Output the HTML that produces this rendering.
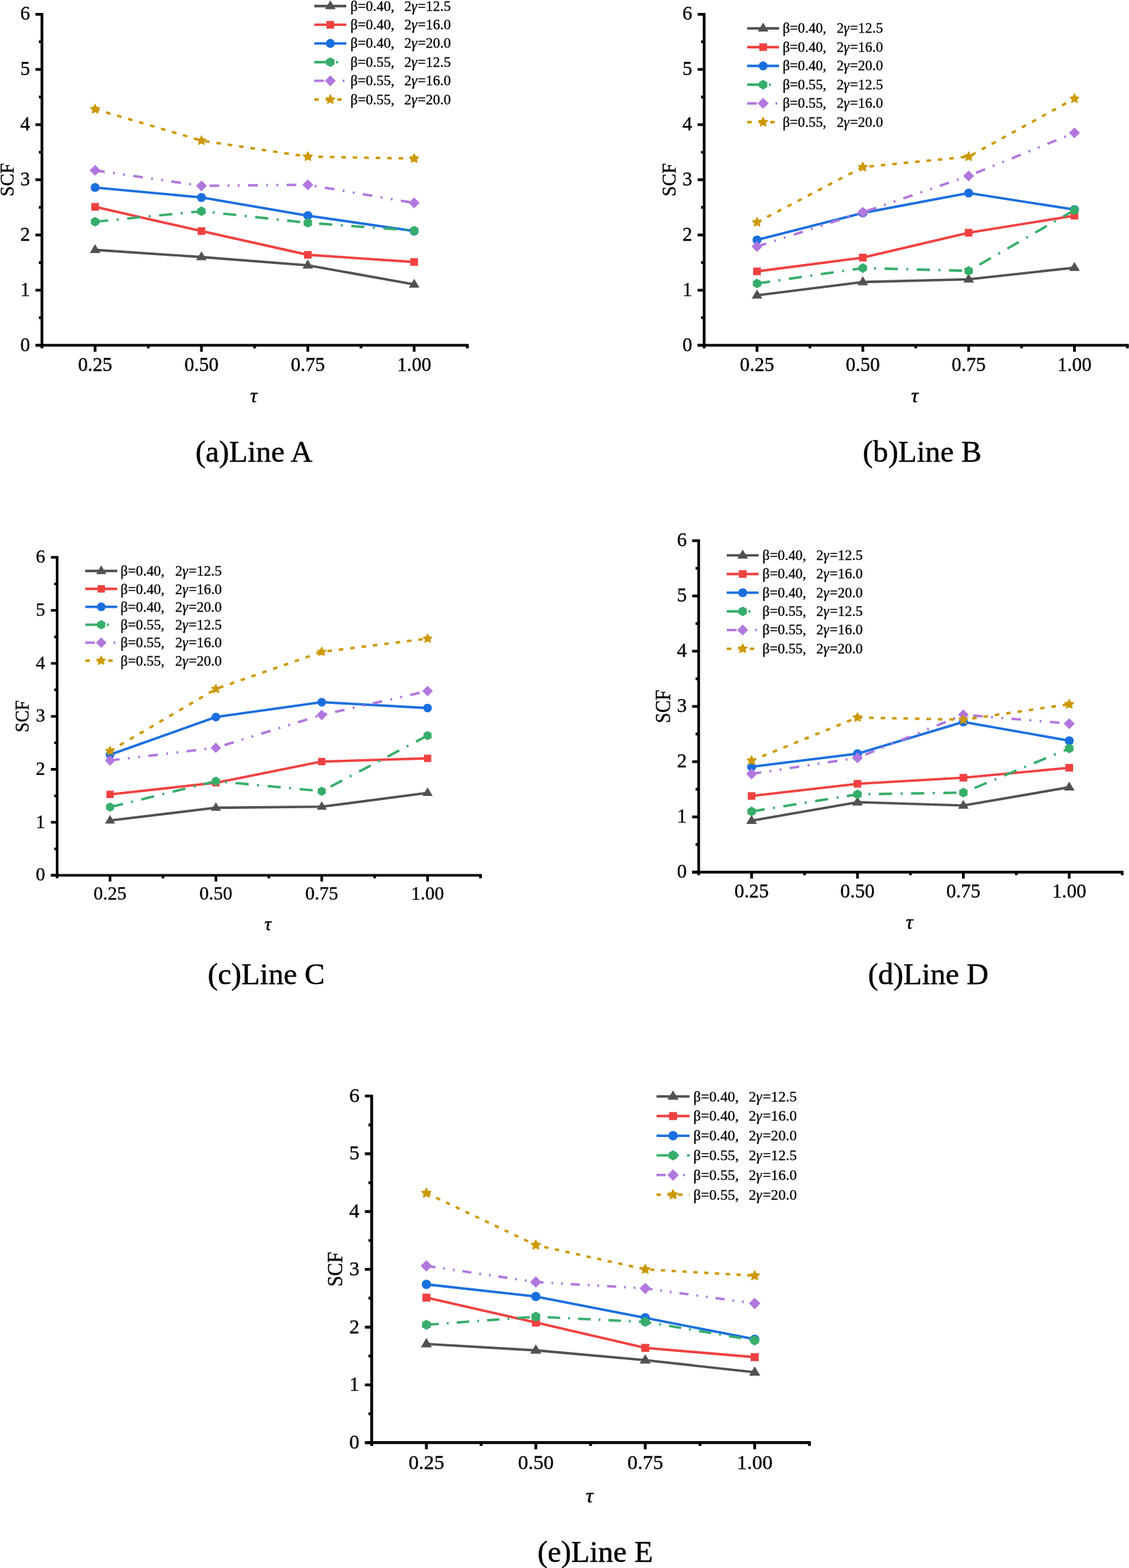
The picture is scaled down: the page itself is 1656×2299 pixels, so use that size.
<!DOCTYPE html><html><head><meta charset="utf-8"><title>SCF vs tau</title><style>html,body{margin:0;padding:0;background:#fff;}svg{display:block;}text{font-family:"Liberation Serif","Noto Serif CJK SC",serif;fill:#000;stroke:#000;stroke-width:0.35px;}text.cap{stroke-width:0.5px;}</style></head><body>
<svg width="1656" height="2299" viewBox="0 0 1656 2299">
<rect width="1656" height="2299" fill="#fff"/>
<g>
<path d="M52 506.3H687.5" stroke="#000" stroke-width="4" fill="none"/>
<path d="M61.5 18.9V510.8" stroke="#000" stroke-width="4" fill="none"/>
<path d="M52 506.3H61.5M52 425.4H61.5M52 344.5H61.5M52 263.6H61.5M52 182.7H61.5M52 101.8H61.5M52 20.9H61.5M57 465.85H61.5M57 384.95H61.5M57 304.05H61.5M57 223.15H61.5M57 142.25H61.5M57 61.35H61.5M139.5 506.3V515.7M295.5 506.3V515.7M451.5 506.3V515.7M607.5 506.3V515.7M217.5 506.3V510.8M373.5 506.3V510.8M529.5 506.3V510.8M685.5 506.3V510.8" stroke="#000" stroke-width="4" fill="none"/>
<text x="44" y="514.61" font-size="28.7" text-anchor="end">0</text>
<text x="44" y="433.71" font-size="28.7" text-anchor="end">1</text>
<text x="44" y="352.81" font-size="28.7" text-anchor="end">2</text>
<text x="44" y="271.91" font-size="28.7" text-anchor="end">3</text>
<text x="44" y="191.01" font-size="28.7" text-anchor="end">4</text>
<text x="44" y="110.11" font-size="28.7" text-anchor="end">5</text>
<text x="44" y="29.21" font-size="28.7" text-anchor="end">6</text>
<text x="139.5" y="543.8" font-size="28.7" text-anchor="middle">0.25</text>
<text x="295.5" y="543.8" font-size="28.7" text-anchor="middle">0.50</text>
<text x="451.5" y="543.8" font-size="28.7" text-anchor="middle">0.75</text>
<text x="607.5" y="543.8" font-size="28.7" text-anchor="middle">1.00</text>
<text x="372.1" y="589.8" font-size="29" text-anchor="middle" font-style="italic" style="stroke-width:0.55px">τ</text>
<text transform="translate(19.6 263.6) rotate(-90) scale(0.96 1.07)" font-size="28.5" text-anchor="middle">SCF</text>
<polyline points="139.5,366.34 295.5,376.86 451.5,389 607.5,417.07" fill="none" stroke="#515151" stroke-width="3.6" stroke-linejoin="round"/>
<polyline points="139.5,303.24 295.5,338.84 451.5,373.62 607.5,384.14" fill="none" stroke="#F14040" stroke-width="3.6" stroke-linejoin="round"/>
<polyline points="139.5,274.93 295.5,289.49 451.5,316.19 607.5,338.84" fill="none" stroke="#1A6FDF" stroke-width="3.6" stroke-linejoin="round"/>
<polyline points="139.5,325.08 295.5,309.71 451.5,326.7 607.5,338.03" fill="none" stroke="#37AD6B" stroke-width="3.6" stroke-linejoin="round" stroke-dasharray="19.3,12.5,2.8,12.6"/>
<polyline points="139.5,249.85 295.5,272.5 451.5,270.88 607.5,297.58" fill="none" stroke="#B177DE" stroke-width="3.6" stroke-linejoin="round" stroke-dasharray="14.2,12.3,2.7,12.3,2.7,12.3"/>
<polyline points="139.5,160.05 295.5,206.16 451.5,229.62 607.5,232.45" fill="none" stroke="#CC9900" stroke-width="3.6" stroke-linejoin="round" stroke-dasharray="6.7,10.1"/>
<polygon points="139.5,357.96 131.7,371.06 147.3,371.06" fill="#515151"/>
<polygon points="295.5,368.48 287.7,381.58 303.3,381.58" fill="#515151"/>
<polygon points="451.5,380.61 443.7,393.71 459.3,393.71" fill="#515151"/>
<polygon points="607.5,408.68 599.7,421.78 615.3,421.78" fill="#515151"/>
<rect x="133.9" y="297.64" width="11.2" height="11.2" fill="#F14040"/>
<rect x="289.9" y="333.24" width="11.2" height="11.2" fill="#F14040"/>
<rect x="445.9" y="368.02" width="11.2" height="11.2" fill="#F14040"/>
<rect x="601.9" y="378.54" width="11.2" height="11.2" fill="#F14040"/>
<circle cx="139.5" cy="274.93" r="6.6" fill="#1A6FDF"/>
<circle cx="295.5" cy="289.49" r="6.6" fill="#1A6FDF"/>
<circle cx="451.5" cy="316.19" r="6.6" fill="#1A6FDF"/>
<circle cx="607.5" cy="338.84" r="6.6" fill="#1A6FDF"/>
<polygon points="139.5,317.98 133.35,321.53 133.35,328.63 139.5,332.18 145.65,328.63 145.65,321.53" fill="#37AD6B"/>
<polygon points="295.5,302.61 289.35,306.16 289.35,313.26 295.5,316.81 301.65,313.26 301.65,306.16" fill="#37AD6B"/>
<polygon points="451.5,319.6 445.35,323.15 445.35,330.25 451.5,333.8 457.65,330.25 457.65,323.15" fill="#37AD6B"/>
<polygon points="607.5,330.93 601.35,334.48 601.35,341.58 607.5,345.13 613.65,341.58 613.65,334.48" fill="#37AD6B"/>
<polygon points="139.5,241.85 147.5,249.85 139.5,257.85 131.5,249.85" fill="#B177DE"/>
<polygon points="295.5,264.5 303.5,272.5 295.5,280.5 287.5,272.5" fill="#B177DE"/>
<polygon points="451.5,262.88 459.5,270.88 451.5,278.88 443.5,270.88" fill="#B177DE"/>
<polygon points="607.5,289.58 615.5,297.58 607.5,305.58 599.5,297.58" fill="#B177DE"/>
<polygon points="139.5,152.8 137.37,157.12 132.6,157.81 136.05,161.17 135.24,165.91 139.5,163.67 143.76,165.91 142.95,161.17 146.4,157.81 141.63,157.12" fill="#CC9900" stroke="#CC9900" stroke-width="1.1" stroke-linejoin="round"/>
<polygon points="295.5,198.91 293.37,203.23 288.6,203.92 292.05,207.28 291.24,212.03 295.5,209.79 299.76,212.03 298.95,207.28 302.4,203.92 297.63,203.23" fill="#CC9900" stroke="#CC9900" stroke-width="1.1" stroke-linejoin="round"/>
<polygon points="451.5,222.37 449.37,226.69 444.6,227.38 448.05,230.74 447.24,235.49 451.5,233.25 455.76,235.49 454.95,230.74 458.4,227.38 453.63,226.69" fill="#CC9900" stroke="#CC9900" stroke-width="1.1" stroke-linejoin="round"/>
<polygon points="607.5,225.2 605.37,229.52 600.6,230.21 604.05,233.57 603.24,238.32 607.5,236.08 611.76,238.32 610.95,233.57 614.4,230.21 609.63,229.52" fill="#CC9900" stroke="#CC9900" stroke-width="1.1" stroke-linejoin="round"/>
<path d="M461 8.9H508" stroke="#515151" stroke-width="3.6" fill="none"/>
<polygon points="484.5,0.52 476.7,13.62 492.3,13.62" fill="#515151"/>
<text y="15.5" font-size="21"><tspan x="514">β=0.40,</tspan><tspan x="593">2<tspan font-style="italic">γ</tspan><tspan dx="1.01">=12.5</tspan></tspan></text>
<path d="M461 36.3H508" stroke="#F14040" stroke-width="3.6" fill="none"/>
<rect x="478.9" y="30.7" width="11.2" height="11.2" fill="#F14040"/>
<text y="42.9" font-size="21"><tspan x="514">β=0.40,</tspan><tspan x="593">2<tspan font-style="italic">γ</tspan><tspan dx="1.01">=16.0</tspan></tspan></text>
<path d="M461 63.7H508" stroke="#1A6FDF" stroke-width="3.6" fill="none"/>
<circle cx="484.5" cy="63.7" r="6.6" fill="#1A6FDF"/>
<text y="70.3" font-size="21"><tspan x="514">β=0.40,</tspan><tspan x="593">2<tspan font-style="italic">γ</tspan><tspan dx="1.01">=20.0</tspan></tspan></text>
<path d="M461 91.1H508" stroke="#37AD6B" stroke-width="3.6" fill="none" stroke-dasharray="19.3,12.5,2.8,12.6"/>
<polygon points="484.5,84 478.35,87.55 478.35,94.65 484.5,98.2 490.65,94.65 490.65,87.55" fill="#37AD6B"/>
<text y="97.7" font-size="21"><tspan x="514">β=0.55,</tspan><tspan x="593">2<tspan font-style="italic">γ</tspan><tspan dx="1.01">=12.5</tspan></tspan></text>
<path d="M461 118.5H508" stroke="#B177DE" stroke-width="3.6" fill="none" stroke-dasharray="14.2,12.3,2.7,12.3,2.7,12.3"/>
<polygon points="484.5,110.5 492.5,118.5 484.5,126.5 476.5,118.5" fill="#B177DE"/>
<text y="125.1" font-size="21"><tspan x="514">β=0.55,</tspan><tspan x="593">2<tspan font-style="italic">γ</tspan><tspan dx="1.01">=16.0</tspan></tspan></text>
<path d="M461 145.9H508" stroke="#CC9900" stroke-width="3.6" fill="none" stroke-dasharray="6.7,10.1"/>
<polygon points="484.5,138.65 482.37,142.97 477.6,143.66 481.05,147.02 480.24,151.77 484.5,149.53 488.76,151.77 487.95,147.02 491.4,143.66 486.63,142.97" fill="#CC9900" stroke="#CC9900" stroke-width="1.1" stroke-linejoin="round"/>
<text y="152.5" font-size="21"><tspan x="514">β=0.55,</tspan><tspan x="593">2<tspan font-style="italic">γ</tspan><tspan dx="1.01">=20.0</tspan></tspan></text>
<text class="cap" x="372.5" y="676.5" font-size="44.5" text-anchor="middle">(a)Line A</text>
</g>
<g>
<path d="M1023.3 506.3H1655.6" stroke="#000" stroke-width="4" fill="none"/>
<path d="M1032.8 18.9V510.8" stroke="#000" stroke-width="4" fill="none"/>
<path d="M1023.3 506.3H1032.8M1023.3 425.4H1032.8M1023.3 344.5H1032.8M1023.3 263.6H1032.8M1023.3 182.7H1032.8M1023.3 101.8H1032.8M1023.3 20.9H1032.8M1028.3 465.85H1032.8M1028.3 384.95H1032.8M1028.3 304.05H1032.8M1028.3 223.15H1032.8M1028.3 142.25H1032.8M1028.3 61.35H1032.8M1110.4 506.3V515.7M1265.6 506.3V515.7M1420.8 506.3V515.7M1576 506.3V515.7M1188 506.3V510.8M1343.2 506.3V510.8M1498.4 506.3V510.8M1653.6 506.3V510.8" stroke="#000" stroke-width="4" fill="none"/>
<text x="1015.39" y="514.61" font-size="28.7" text-anchor="end">0</text>
<text x="1015.39" y="433.71" font-size="28.7" text-anchor="end">1</text>
<text x="1015.39" y="352.81" font-size="28.7" text-anchor="end">2</text>
<text x="1015.39" y="271.91" font-size="28.7" text-anchor="end">3</text>
<text x="1015.39" y="191.01" font-size="28.7" text-anchor="end">4</text>
<text x="1015.39" y="110.11" font-size="28.7" text-anchor="end">5</text>
<text x="1015.39" y="29.21" font-size="28.7" text-anchor="end">6</text>
<text x="1110.4" y="543.8" font-size="28.7" text-anchor="middle">0.25</text>
<text x="1265.6" y="543.8" font-size="28.7" text-anchor="middle">0.50</text>
<text x="1420.8" y="543.8" font-size="28.7" text-anchor="middle">0.75</text>
<text x="1576" y="543.8" font-size="28.7" text-anchor="middle">1.00</text>
<text x="1341.81" y="589.8" font-size="29" text-anchor="middle" font-style="italic" style="stroke-width:0.55px">τ</text>
<text transform="translate(991.11 263.6) rotate(-90) scale(0.96 1.07)" font-size="28.5" text-anchor="middle">SCF</text>
<polyline points="1110.4,432.92 1265.6,413.51 1420.8,409.46 1576,392.47" fill="none" stroke="#515151" stroke-width="3.6" stroke-linejoin="round"/>
<polyline points="1110.4,397.89 1265.6,377.67 1420.8,341.26 1576,316.19" fill="none" stroke="#F14040" stroke-width="3.6" stroke-linejoin="round"/>
<polyline points="1110.4,351.78 1265.6,312.14 1420.8,283.02 1576,307.29" fill="none" stroke="#1A6FDF" stroke-width="3.6" stroke-linejoin="round"/>
<polyline points="1110.4,415.69 1265.6,393.04 1420.8,397.08 1576,308.09" fill="none" stroke="#37AD6B" stroke-width="3.6" stroke-linejoin="round" stroke-dasharray="19.3,12.5,2.8,12.6"/>
<polyline points="1110.4,361.49 1265.6,311.33 1420.8,257.94 1576,194.83" fill="none" stroke="#B177DE" stroke-width="3.6" stroke-linejoin="round" stroke-dasharray="14.2,12.3,2.7,12.3,2.7,12.3"/>
<polyline points="1110.4,325.89 1265.6,244.99 1420.8,229.62 1576,144.68" fill="none" stroke="#CC9900" stroke-width="3.6" stroke-linejoin="round" stroke-dasharray="6.7,10.1"/>
<polygon points="1110.4,424.54 1102.6,437.64 1118.2,437.64" fill="#515151"/>
<polygon points="1265.6,405.12 1257.8,418.22 1273.4,418.22" fill="#515151"/>
<polygon points="1420.8,401.08 1413,414.18 1428.6,414.18" fill="#515151"/>
<polygon points="1576,384.09 1568.2,397.19 1583.8,397.19" fill="#515151"/>
<rect x="1104.8" y="392.29" width="11.2" height="11.2" fill="#F14040"/>
<rect x="1260" y="372.07" width="11.2" height="11.2" fill="#F14040"/>
<rect x="1415.2" y="335.66" width="11.2" height="11.2" fill="#F14040"/>
<rect x="1570.4" y="310.58" width="11.2" height="11.2" fill="#F14040"/>
<circle cx="1110.4" cy="351.78" r="6.6" fill="#1A6FDF"/>
<circle cx="1265.6" cy="312.14" r="6.6" fill="#1A6FDF"/>
<circle cx="1420.8" cy="283.02" r="6.6" fill="#1A6FDF"/>
<circle cx="1576" cy="307.29" r="6.6" fill="#1A6FDF"/>
<polygon points="1110.4,408.59 1104.25,412.14 1104.25,419.24 1110.4,422.79 1116.55,419.24 1116.55,412.14" fill="#37AD6B"/>
<polygon points="1265.6,385.94 1259.45,389.49 1259.45,396.59 1265.6,400.14 1271.75,396.59 1271.75,389.49" fill="#37AD6B"/>
<polygon points="1420.8,389.98 1414.65,393.53 1414.65,400.63 1420.8,404.19 1426.95,400.63 1426.95,393.53" fill="#37AD6B"/>
<polygon points="1576,300.99 1569.85,304.54 1569.85,311.64 1576,315.19 1582.15,311.64 1582.15,304.54" fill="#37AD6B"/>
<polygon points="1110.4,353.49 1118.4,361.49 1110.4,369.49 1102.4,361.49" fill="#B177DE"/>
<polygon points="1265.6,303.33 1273.6,311.33 1265.6,319.33 1257.6,311.33" fill="#B177DE"/>
<polygon points="1420.8,249.94 1428.8,257.94 1420.8,265.94 1412.8,257.94" fill="#B177DE"/>
<polygon points="1576,186.83 1584,194.83 1576,202.83 1568,194.83" fill="#B177DE"/>
<polygon points="1110.4,318.64 1108.27,322.96 1103.5,323.65 1106.95,327.01 1106.14,331.76 1110.4,329.52 1114.66,331.76 1113.85,327.01 1117.3,323.65 1112.53,322.96" fill="#CC9900" stroke="#CC9900" stroke-width="1.1" stroke-linejoin="round"/>
<polygon points="1265.6,237.74 1263.47,242.06 1258.7,242.75 1262.15,246.11 1261.34,250.86 1265.6,248.62 1269.86,250.86 1269.05,246.11 1272.5,242.75 1267.73,242.06" fill="#CC9900" stroke="#CC9900" stroke-width="1.1" stroke-linejoin="round"/>
<polygon points="1420.8,222.37 1418.67,226.69 1413.9,227.38 1417.35,230.74 1416.54,235.49 1420.8,233.25 1425.06,235.49 1424.25,230.74 1427.7,227.38 1422.93,226.69" fill="#CC9900" stroke="#CC9900" stroke-width="1.1" stroke-linejoin="round"/>
<polygon points="1576,137.43 1573.87,141.74 1569.1,142.44 1572.55,145.8 1571.74,150.54 1576,148.3 1580.26,150.54 1579.45,145.8 1582.9,142.44 1578.13,141.74" fill="#CC9900" stroke="#CC9900" stroke-width="1.1" stroke-linejoin="round"/>
<path d="M1096 41.6H1142.7" stroke="#515151" stroke-width="3.6" fill="none"/>
<polygon points="1119.35,33.22 1111.55,46.32 1127.15,46.32" fill="#515151"/>
<text y="48.2" font-size="20.85"><tspan x="1148">β=0.40,</tspan><tspan x="1227.2">2<tspan font-style="italic">γ</tspan><tspan dx="1">=12.5</tspan></tspan></text>
<path d="M1096 69.1H1142.7" stroke="#F14040" stroke-width="3.6" fill="none"/>
<rect x="1113.75" y="63.5" width="11.2" height="11.2" fill="#F14040"/>
<text y="75.7" font-size="20.85"><tspan x="1148">β=0.40,</tspan><tspan x="1227.2">2<tspan font-style="italic">γ</tspan><tspan dx="1">=16.0</tspan></tspan></text>
<path d="M1096 96.6H1142.7" stroke="#1A6FDF" stroke-width="3.6" fill="none"/>
<circle cx="1119.35" cy="96.6" r="6.6" fill="#1A6FDF"/>
<text y="103.2" font-size="20.85"><tspan x="1148">β=0.40,</tspan><tspan x="1227.2">2<tspan font-style="italic">γ</tspan><tspan dx="1">=20.0</tspan></tspan></text>
<path d="M1096 124.1H1142.7" stroke="#37AD6B" stroke-width="3.6" fill="none" stroke-dasharray="19.3,12.5,2.8,12.6"/>
<polygon points="1119.35,117 1113.2,120.55 1113.2,127.65 1119.35,131.2 1125.5,127.65 1125.5,120.55" fill="#37AD6B"/>
<text y="130.7" font-size="20.85"><tspan x="1148">β=0.55,</tspan><tspan x="1227.2">2<tspan font-style="italic">γ</tspan><tspan dx="1">=12.5</tspan></tspan></text>
<path d="M1096 151.6H1142.7" stroke="#B177DE" stroke-width="3.6" fill="none" stroke-dasharray="14.2,12.3,2.7,12.3,2.7,12.3"/>
<polygon points="1119.35,143.6 1127.35,151.6 1119.35,159.6 1111.35,151.6" fill="#B177DE"/>
<text y="158.2" font-size="20.85"><tspan x="1148">β=0.55,</tspan><tspan x="1227.2">2<tspan font-style="italic">γ</tspan><tspan dx="1">=16.0</tspan></tspan></text>
<path d="M1096 179.1H1142.7" stroke="#CC9900" stroke-width="3.6" fill="none" stroke-dasharray="6.7,10.1"/>
<polygon points="1119.35,171.85 1117.22,176.17 1112.45,176.86 1115.9,180.22 1115.09,184.97 1119.35,182.72 1123.61,184.97 1122.8,180.22 1126.25,176.86 1121.48,176.17" fill="#CC9900" stroke="#CC9900" stroke-width="1.1" stroke-linejoin="round"/>
<text y="185.7" font-size="20.85"><tspan x="1148">β=0.55,</tspan><tspan x="1227.2">2<tspan font-style="italic">γ</tspan><tspan dx="1">=20.0</tspan></tspan></text>
<text class="cap" x="1352.7" y="676.6" font-size="44.5" text-anchor="middle">(b)Line B</text>
</g>
<g>
<path d="M74.68 1283.4H706.72" stroke="#000" stroke-width="3.84" fill="none"/>
<path d="M83.8 815.28V1287.72" stroke="#000" stroke-width="3.84" fill="none"/>
<path d="M74.68 1283.4H83.8M74.68 1205.7H83.8M74.68 1128H83.8M74.68 1050.3H83.8M74.68 972.6H83.8M74.68 894.9H83.8M74.68 817.2H83.8M79.48 1244.55H83.8M79.48 1166.85H83.8M79.48 1089.15H83.8M79.48 1011.45H83.8M79.48 933.75H83.8M79.48 856.05H83.8M161.43 1283.4V1292.43M316.68 1283.4V1292.43M471.93 1283.4V1292.43M627.17 1283.4V1292.43M239.05 1283.4V1287.72M394.3 1283.4V1287.72M549.55 1283.4V1287.72M704.8 1283.4V1287.72" stroke="#000" stroke-width="3.84" fill="none"/>
<text x="66.38" y="1291.39" font-size="27.56" text-anchor="end">0</text>
<text x="66.38" y="1213.69" font-size="27.56" text-anchor="end">1</text>
<text x="66.38" y="1135.99" font-size="27.56" text-anchor="end">2</text>
<text x="66.38" y="1058.29" font-size="27.56" text-anchor="end">3</text>
<text x="66.38" y="980.59" font-size="27.56" text-anchor="end">4</text>
<text x="66.38" y="902.89" font-size="27.56" text-anchor="end">5</text>
<text x="66.38" y="825.19" font-size="27.56" text-anchor="end">6</text>
<text x="161.43" y="1319.42" font-size="27.56" text-anchor="middle">0.25</text>
<text x="316.68" y="1319.42" font-size="27.56" text-anchor="middle">0.50</text>
<text x="471.93" y="1319.42" font-size="27.56" text-anchor="middle">0.75</text>
<text x="627.17" y="1319.42" font-size="27.56" text-anchor="middle">1.00</text>
<text x="392.91" y="1363.6" font-size="27.85" text-anchor="middle" font-style="italic" style="stroke-width:0.55px">τ</text>
<text transform="translate(42.1 1050.3) rotate(-90) scale(0.96 1.07)" font-size="27.37" text-anchor="middle">SCF</text>
<polyline points="161.43,1202.98 316.68,1184.33 471.93,1182.78 627.17,1162.58" fill="none" stroke="#515151" stroke-width="3.6" stroke-linejoin="round"/>
<polyline points="161.43,1164.75 316.68,1147.66 471.93,1116.58 627.17,1111.92" fill="none" stroke="#F14040" stroke-width="3.6" stroke-linejoin="round"/>
<polyline points="161.43,1106.48 316.68,1051.31 471.93,1029.55 627.17,1038.1" fill="none" stroke="#1A6FDF" stroke-width="3.6" stroke-linejoin="round"/>
<polyline points="161.43,1183.4 316.68,1145.33 471.93,1160.09 627.17,1078.51" fill="none" stroke="#37AD6B" stroke-width="3.6" stroke-linejoin="round" stroke-dasharray="19.3,12.5,2.8,12.6"/>
<polyline points="161.43,1115.02 316.68,1096.38 471.93,1048.2 627.17,1013.24" fill="none" stroke="#B177DE" stroke-width="3.6" stroke-linejoin="round" stroke-dasharray="14.2,12.3,2.7,12.3,2.7,12.3"/>
<polyline points="161.43,1101.04 316.68,1010.13 471.93,955.74 627.17,936.31" fill="none" stroke="#CC9900" stroke-width="3.6" stroke-linejoin="round" stroke-dasharray="6.7,10.1"/>
<polygon points="161.43,1194.93 153.93,1207.51 168.92,1207.51" fill="#515151"/>
<polygon points="316.68,1176.28 309.18,1188.86 324.17,1188.86" fill="#515151"/>
<polygon points="471.93,1174.73 464.43,1187.31 479.42,1187.31" fill="#515151"/>
<polygon points="627.17,1154.52 619.68,1167.11 634.67,1167.11" fill="#515151"/>
<rect x="156.05" y="1159.37" width="10.76" height="10.76" fill="#F14040"/>
<rect x="311.3" y="1142.28" width="10.76" height="10.76" fill="#F14040"/>
<rect x="466.55" y="1111.2" width="10.76" height="10.76" fill="#F14040"/>
<rect x="621.8" y="1106.54" width="10.76" height="10.76" fill="#F14040"/>
<circle cx="161.43" cy="1106.48" r="6.34" fill="#1A6FDF"/>
<circle cx="316.68" cy="1051.31" r="6.34" fill="#1A6FDF"/>
<circle cx="471.93" cy="1029.55" r="6.34" fill="#1A6FDF"/>
<circle cx="627.17" cy="1038.1" r="6.34" fill="#1A6FDF"/>
<polygon points="161.43,1176.58 155.52,1179.99 155.52,1186.81 161.43,1190.22 167.33,1186.81 167.33,1179.99" fill="#37AD6B"/>
<polygon points="316.68,1138.51 310.77,1141.92 310.77,1148.74 316.68,1152.15 322.58,1148.74 322.58,1141.92" fill="#37AD6B"/>
<polygon points="471.93,1153.27 466.02,1156.68 466.02,1163.5 471.93,1166.91 477.83,1163.5 477.83,1156.68" fill="#37AD6B"/>
<polygon points="627.17,1071.69 621.27,1075.1 621.27,1081.91 627.17,1085.32 633.08,1081.91 633.08,1075.1" fill="#37AD6B"/>
<polygon points="161.43,1107.34 169.11,1115.02 161.43,1122.71 153.74,1115.02" fill="#B177DE"/>
<polygon points="316.68,1088.69 324.36,1096.38 316.68,1104.06 308.99,1096.38" fill="#B177DE"/>
<polygon points="471.93,1040.52 479.61,1048.2 471.93,1055.89 464.24,1048.2" fill="#B177DE"/>
<polygon points="627.17,1005.55 634.86,1013.24 627.17,1020.92 619.49,1013.24" fill="#B177DE"/>
<polygon points="161.43,1094.07 159.38,1098.22 154.8,1098.89 158.11,1102.11 157.33,1106.67 161.43,1104.52 165.52,1106.67 164.74,1102.11 168.05,1098.89 163.47,1098.22" fill="#CC9900" stroke="#CC9900" stroke-width="1.06" stroke-linejoin="round"/>
<polygon points="316.68,1003.17 314.63,1007.31 310.05,1007.98 313.36,1011.2 312.58,1015.76 316.68,1013.61 320.77,1015.76 319.99,1011.2 323.3,1007.98 318.72,1007.31" fill="#CC9900" stroke="#CC9900" stroke-width="1.06" stroke-linejoin="round"/>
<polygon points="471.93,948.78 469.88,952.92 465.3,953.59 468.61,956.81 467.83,961.37 471.93,959.22 476.02,961.37 475.24,956.81 478.55,953.59 473.97,952.92" fill="#CC9900" stroke="#CC9900" stroke-width="1.06" stroke-linejoin="round"/>
<polygon points="627.17,929.35 625.13,933.5 620.55,934.16 623.86,937.39 623.08,941.95 627.17,939.8 631.27,941.95 630.49,937.39 633.8,934.16 629.22,933.5" fill="#CC9900" stroke="#CC9900" stroke-width="1.06" stroke-linejoin="round"/>
<path d="M125 837.1H172" stroke="#515151" stroke-width="3.6" fill="none"/>
<polygon points="148.5,829.05 141.01,841.63 155.99,841.63" fill="#515151"/>
<text y="844.24" font-size="21"><tspan x="176.8">β=0.40,</tspan><tspan x="257">2<tspan font-style="italic">γ</tspan><tspan dx="1.01">=12.5</tspan></tspan></text>
<path d="M125 863.4H172" stroke="#F14040" stroke-width="3.6" fill="none"/>
<rect x="143.12" y="858.02" width="10.76" height="10.76" fill="#F14040"/>
<text y="870.54" font-size="21"><tspan x="176.8">β=0.40,</tspan><tspan x="257">2<tspan font-style="italic">γ</tspan><tspan dx="1.01">=16.0</tspan></tspan></text>
<path d="M125 889.7H172" stroke="#1A6FDF" stroke-width="3.6" fill="none"/>
<circle cx="148.5" cy="889.7" r="6.34" fill="#1A6FDF"/>
<text y="896.84" font-size="21"><tspan x="176.8">β=0.40,</tspan><tspan x="257">2<tspan font-style="italic">γ</tspan><tspan dx="1.01">=20.0</tspan></tspan></text>
<path d="M125 916H172" stroke="#37AD6B" stroke-width="3.6" fill="none" stroke-dasharray="19.3,12.5,2.8,12.6"/>
<polygon points="148.5,909.18 142.59,912.59 142.59,919.41 148.5,922.82 154.41,919.41 154.41,912.59" fill="#37AD6B"/>
<text y="923.14" font-size="21"><tspan x="176.8">β=0.55,</tspan><tspan x="257">2<tspan font-style="italic">γ</tspan><tspan dx="1.01">=12.5</tspan></tspan></text>
<path d="M125 942.3H172" stroke="#B177DE" stroke-width="3.6" fill="none" stroke-dasharray="14.2,12.3,2.7,12.3,2.7,12.3"/>
<polygon points="148.5,934.62 156.18,942.3 148.5,949.98 140.82,942.3" fill="#B177DE"/>
<text y="949.44" font-size="21"><tspan x="176.8">β=0.55,</tspan><tspan x="257">2<tspan font-style="italic">γ</tspan><tspan dx="1.01">=16.0</tspan></tspan></text>
<path d="M125 968.6H172" stroke="#CC9900" stroke-width="3.6" fill="none" stroke-dasharray="6.7,10.1"/>
<polygon points="148.5,961.64 146.45,965.78 141.88,966.45 145.19,969.68 144.41,974.23 148.5,972.08 152.59,974.23 151.81,969.68 155.12,966.45 150.55,965.78" fill="#CC9900" stroke="#CC9900" stroke-width="1.06" stroke-linejoin="round"/>
<text y="975.74" font-size="21"><tspan x="176.8">β=0.55,</tspan><tspan x="257">2<tspan font-style="italic">γ</tspan><tspan dx="1.01">=20.0</tspan></tspan></text>
<text class="cap" x="390.6" y="1442.7" font-size="44.5" text-anchor="middle">(c)Line C</text>
</g>
<g>
<path d="M1015.29 1278.8H1648" stroke="#000" stroke-width="4" fill="none"/>
<path d="M1024.8 790.8V1283.31" stroke="#000" stroke-width="4" fill="none"/>
<path d="M1015.29 1278.8H1024.8M1015.29 1197.8H1024.8M1015.29 1116.8H1024.8M1015.29 1035.8H1024.8M1015.29 954.8H1024.8M1015.29 873.8H1024.8M1015.29 792.8H1024.8M1020.29 1238.3H1024.8M1020.29 1157.3H1024.8M1020.29 1076.3H1024.8M1020.29 995.3H1024.8M1020.29 914.3H1024.8M1020.29 833.3H1024.8M1102.45 1278.8V1288.21M1257.75 1278.8V1288.21M1413.05 1278.8V1288.21M1568.35 1278.8V1288.21M1180.1 1278.8V1283.31M1335.4 1278.8V1283.31M1490.7 1278.8V1283.31M1646 1278.8V1283.31" stroke="#000" stroke-width="4" fill="none"/>
<text x="1007.38" y="1287.12" font-size="28.74" text-anchor="end">0</text>
<text x="1007.38" y="1206.12" font-size="28.74" text-anchor="end">1</text>
<text x="1007.38" y="1125.12" font-size="28.74" text-anchor="end">2</text>
<text x="1007.38" y="1044.12" font-size="28.74" text-anchor="end">3</text>
<text x="1007.38" y="963.12" font-size="28.74" text-anchor="end">4</text>
<text x="1007.38" y="882.12" font-size="28.74" text-anchor="end">5</text>
<text x="1007.38" y="801.12" font-size="28.74" text-anchor="end">6</text>
<text x="1102.45" y="1316.35" font-size="28.74" text-anchor="middle">0.25</text>
<text x="1257.75" y="1316.35" font-size="28.74" text-anchor="middle">0.50</text>
<text x="1413.05" y="1316.35" font-size="28.74" text-anchor="middle">0.75</text>
<text x="1568.35" y="1316.35" font-size="28.74" text-anchor="middle">1.00</text>
<text x="1334.01" y="1362.4" font-size="29.04" text-anchor="middle" font-style="italic" style="stroke-width:0.55px">τ</text>
<text transform="translate(983.09 1035.8) rotate(-90) scale(0.96 1.07)" font-size="28.54" text-anchor="middle">SCF</text>
<polyline points="1102.45,1203.31 1257.75,1176.17 1413.05,1181.03 1568.35,1154.3" fill="none" stroke="#515151" stroke-width="3.6" stroke-linejoin="round"/>
<polyline points="1102.45,1167.02 1257.75,1149.2 1413.05,1140.29 1568.35,1125.71" fill="none" stroke="#F14040" stroke-width="3.6" stroke-linejoin="round"/>
<polyline points="1102.45,1124.33 1257.75,1105.05 1413.05,1058.48 1568.35,1086.02" fill="none" stroke="#1A6FDF" stroke-width="3.6" stroke-linejoin="round"/>
<polyline points="1102.45,1189.7 1257.75,1164.59 1413.05,1162.16 1568.35,1097.36" fill="none" stroke="#37AD6B" stroke-width="3.6" stroke-linejoin="round" stroke-dasharray="19.3,12.5,2.8,12.6"/>
<polyline points="1102.45,1134.62 1257.75,1111.13 1413.05,1047.95 1568.35,1060.91" fill="none" stroke="#B177DE" stroke-width="3.6" stroke-linejoin="round" stroke-dasharray="14.2,12.3,2.7,12.3,2.7,12.3"/>
<polyline points="1102.45,1115.18 1257.75,1052 1413.05,1055.24 1568.35,1032.56" fill="none" stroke="#CC9900" stroke-width="3.6" stroke-linejoin="round" stroke-dasharray="6.7,10.1"/>
<polygon points="1102.45,1194.91 1094.64,1208.03 1110.26,1208.03" fill="#515151"/>
<polygon points="1257.75,1167.78 1249.94,1180.89 1265.56,1180.89" fill="#515151"/>
<polygon points="1413.05,1172.64 1405.24,1185.75 1420.86,1185.75" fill="#515151"/>
<polygon points="1568.35,1145.91 1560.54,1159.02 1576.16,1159.02" fill="#515151"/>
<rect x="1096.84" y="1161.41" width="11.21" height="11.21" fill="#F14040"/>
<rect x="1252.14" y="1143.59" width="11.21" height="11.21" fill="#F14040"/>
<rect x="1407.44" y="1134.68" width="11.21" height="11.21" fill="#F14040"/>
<rect x="1562.74" y="1120.1" width="11.21" height="11.21" fill="#F14040"/>
<circle cx="1102.45" cy="1124.33" r="6.61" fill="#1A6FDF"/>
<circle cx="1257.75" cy="1105.05" r="6.61" fill="#1A6FDF"/>
<circle cx="1413.05" cy="1058.48" r="6.61" fill="#1A6FDF"/>
<circle cx="1568.35" cy="1086.02" r="6.61" fill="#1A6FDF"/>
<polygon points="1102.45,1182.59 1096.29,1186.15 1096.29,1193.25 1102.45,1196.81 1108.61,1193.25 1108.61,1186.15" fill="#37AD6B"/>
<polygon points="1257.75,1157.48 1251.59,1161.04 1251.59,1168.14 1257.75,1171.7 1263.91,1168.14 1263.91,1161.04" fill="#37AD6B"/>
<polygon points="1413.05,1155.05 1406.89,1158.61 1406.89,1165.71 1413.05,1169.27 1419.21,1165.71 1419.21,1158.61" fill="#37AD6B"/>
<polygon points="1568.35,1090.25 1562.19,1093.81 1562.19,1100.91 1568.35,1104.47 1574.51,1100.91 1574.51,1093.81" fill="#37AD6B"/>
<polygon points="1102.45,1126.61 1110.46,1134.62 1102.45,1142.63 1094.44,1134.62" fill="#B177DE"/>
<polygon points="1257.75,1103.12 1265.76,1111.13 1257.75,1119.14 1249.74,1111.13" fill="#B177DE"/>
<polygon points="1413.05,1039.94 1421.06,1047.95 1413.05,1055.96 1405.04,1047.95" fill="#B177DE"/>
<polygon points="1568.35,1052.9 1576.36,1060.91 1568.35,1068.92 1560.34,1060.91" fill="#B177DE"/>
<polygon points="1102.45,1107.92 1100.32,1112.24 1095.55,1112.94 1099,1116.3 1098.18,1121.05 1102.45,1118.81 1106.72,1121.05 1105.9,1116.3 1109.35,1112.94 1104.58,1112.24" fill="#CC9900" stroke="#CC9900" stroke-width="1.1" stroke-linejoin="round"/>
<polygon points="1257.75,1044.74 1255.62,1049.06 1250.85,1049.76 1254.3,1053.12 1253.48,1057.87 1257.75,1055.63 1262.02,1057.87 1261.2,1053.12 1264.65,1049.76 1259.88,1049.06" fill="#CC9900" stroke="#CC9900" stroke-width="1.1" stroke-linejoin="round"/>
<polygon points="1413.05,1047.98 1410.92,1052.3 1406.15,1053 1409.6,1056.36 1408.78,1061.11 1413.05,1058.87 1417.32,1061.11 1416.5,1056.36 1419.95,1053 1415.18,1052.3" fill="#CC9900" stroke="#CC9900" stroke-width="1.1" stroke-linejoin="round"/>
<polygon points="1568.35,1025.3 1566.22,1029.62 1561.45,1030.32 1564.9,1033.68 1564.08,1038.43 1568.35,1036.19 1572.62,1038.43 1571.8,1033.68 1575.25,1030.32 1570.48,1029.62" fill="#CC9900" stroke="#CC9900" stroke-width="1.1" stroke-linejoin="round"/>
<path d="M1066 814.2H1112.8" stroke="#515151" stroke-width="3.6" fill="none"/>
<polygon points="1089.4,805.81 1081.59,818.92 1097.21,818.92" fill="#515151"/>
<text y="820.81" font-size="20.9"><tspan x="1118.3">β=0.40,</tspan><tspan x="1197.3">2<tspan font-style="italic">γ</tspan><tspan dx="1">=12.5</tspan></tspan></text>
<path d="M1066 841.6H1112.8" stroke="#F14040" stroke-width="3.6" fill="none"/>
<rect x="1083.79" y="835.99" width="11.21" height="11.21" fill="#F14040"/>
<text y="848.21" font-size="20.9"><tspan x="1118.3">β=0.40,</tspan><tspan x="1197.3">2<tspan font-style="italic">γ</tspan><tspan dx="1">=16.0</tspan></tspan></text>
<path d="M1066 869H1112.8" stroke="#1A6FDF" stroke-width="3.6" fill="none"/>
<circle cx="1089.4" cy="869" r="6.61" fill="#1A6FDF"/>
<text y="875.61" font-size="20.9"><tspan x="1118.3">β=0.40,</tspan><tspan x="1197.3">2<tspan font-style="italic">γ</tspan><tspan dx="1">=20.0</tspan></tspan></text>
<path d="M1066 896.4H1112.8" stroke="#37AD6B" stroke-width="3.6" fill="none" stroke-dasharray="19.3,12.5,2.8,12.6"/>
<polygon points="1089.4,889.29 1083.24,892.85 1083.24,899.95 1089.4,903.51 1095.56,899.95 1095.56,892.85" fill="#37AD6B"/>
<text y="903.01" font-size="20.9"><tspan x="1118.3">β=0.55,</tspan><tspan x="1197.3">2<tspan font-style="italic">γ</tspan><tspan dx="1">=12.5</tspan></tspan></text>
<path d="M1066 923.8H1112.8" stroke="#B177DE" stroke-width="3.6" fill="none" stroke-dasharray="14.2,12.3,2.7,12.3,2.7,12.3"/>
<polygon points="1089.4,915.79 1097.41,923.8 1089.4,931.81 1081.39,923.8" fill="#B177DE"/>
<text y="930.41" font-size="20.9"><tspan x="1118.3">β=0.55,</tspan><tspan x="1197.3">2<tspan font-style="italic">γ</tspan><tspan dx="1">=16.0</tspan></tspan></text>
<path d="M1066 951.2H1112.8" stroke="#CC9900" stroke-width="3.6" fill="none" stroke-dasharray="6.7,10.1"/>
<polygon points="1089.4,943.94 1087.27,948.26 1082.5,948.96 1085.95,952.32 1085.13,957.07 1089.4,954.83 1093.67,957.07 1092.85,952.32 1096.3,948.96 1091.53,948.26" fill="#CC9900" stroke="#CC9900" stroke-width="1.1" stroke-linejoin="round"/>
<text y="957.81" font-size="20.9"><tspan x="1118.3">β=0.55,</tspan><tspan x="1197.3">2<tspan font-style="italic">γ</tspan><tspan dx="1">=20.0</tspan></tspan></text>
<text class="cap" x="1361.6" y="1442.7" font-size="44.5" text-anchor="middle">(d)Line D</text>
</g>
<g>
<path d="M535.25 2115.2H1189.29" stroke="#000" stroke-width="4.19" fill="none"/>
<path d="M545.2 1604.91V2119.91" stroke="#000" stroke-width="4.19" fill="none"/>
<path d="M535.25 2115.2H545.2M535.25 2030.5H545.2M535.25 1945.8H545.2M535.25 1861.1H545.2M535.25 1776.4H545.2M535.25 1691.7H545.2M535.25 1607H545.2M540.49 2072.85H545.2M540.49 1988.15H545.2M540.49 1903.45H545.2M540.49 1818.75H545.2M540.49 1734.05H545.2M540.49 1649.35H545.2M625.45 2115.2V2125.04M785.95 2115.2V2125.04M946.45 2115.2V2125.04M1106.95 2115.2V2125.04M705.7 2115.2V2119.91M866.2 2115.2V2119.91M1026.7 2115.2V2119.91M1187.2 2115.2V2119.91" stroke="#000" stroke-width="4.19" fill="none"/>
<text x="527.2" y="2123.91" font-size="30.05" text-anchor="end">0</text>
<text x="527.2" y="2039.21" font-size="30.05" text-anchor="end">1</text>
<text x="527.2" y="1954.51" font-size="30.05" text-anchor="end">2</text>
<text x="527.2" y="1869.81" font-size="30.05" text-anchor="end">3</text>
<text x="527.2" y="1785.11" font-size="30.05" text-anchor="end">4</text>
<text x="527.2" y="1700.41" font-size="30.05" text-anchor="end">5</text>
<text x="527.2" y="1615.71" font-size="30.05" text-anchor="end">6</text>
<text x="625.45" y="2154.46" font-size="30.05" text-anchor="middle">0.25</text>
<text x="785.95" y="2154.46" font-size="30.05" text-anchor="middle">0.50</text>
<text x="946.45" y="2154.46" font-size="30.05" text-anchor="middle">0.75</text>
<text x="1106.95" y="2154.46" font-size="30.05" text-anchor="middle">1.00</text>
<text x="864.76" y="2202.62" font-size="30.36" text-anchor="middle" font-style="italic" style="stroke-width:0.55px">τ</text>
<text transform="translate(502.09 1861.1) rotate(-90) scale(0.96 1.07)" font-size="29.84" text-anchor="middle">SCF</text>
<polyline points="625.45,1970.53 785.95,1979.85 946.45,1994.25 1106.95,2012.04" fill="none" stroke="#515151" stroke-width="3.6" stroke-linejoin="round"/>
<polyline points="625.45,1902.6 785.95,1939.02 946.45,1976.29 1106.95,1989.84" fill="none" stroke="#F14040" stroke-width="3.6" stroke-linejoin="round"/>
<polyline points="625.45,1883.12 785.95,1900.91 946.45,1932.25 1106.95,1963.59" fill="none" stroke="#1A6FDF" stroke-width="3.6" stroke-linejoin="round"/>
<polyline points="625.45,1942.41 785.95,1930.55 946.45,1938.18 1106.95,1965.28" fill="none" stroke="#37AD6B" stroke-width="3.6" stroke-linejoin="round" stroke-dasharray="18.24,11.81,2.65,11.91"/>
<polyline points="625.45,1856.02 785.95,1879.73 946.45,1889.05 1106.95,1911.07" fill="none" stroke="#B177DE" stroke-width="3.6" stroke-linejoin="round" stroke-dasharray="13.42,11.62,2.55,11.62,2.55,11.62"/>
<polyline points="625.45,1749.3 785.95,1825.53 946.45,1861.1 1106.95,1870.42" fill="none" stroke="#CC9900" stroke-width="3.6" stroke-linejoin="round" stroke-dasharray="6.33,9.54"/>
<polygon points="625.45,1961.75 617.28,1975.47 633.62,1975.47" fill="#515151"/>
<polygon points="785.95,1971.07 777.78,1984.79 794.12,1984.79" fill="#515151"/>
<polygon points="946.45,1985.47 938.28,1999.19 954.62,1999.19" fill="#515151"/>
<polygon points="1106.95,2003.26 1098.78,2016.97 1115.12,2016.97" fill="#515151"/>
<rect x="619.59" y="1896.74" width="11.73" height="11.73" fill="#F14040"/>
<rect x="780.09" y="1933.16" width="11.73" height="11.73" fill="#F14040"/>
<rect x="940.59" y="1970.43" width="11.73" height="11.73" fill="#F14040"/>
<rect x="1101.09" y="1983.98" width="11.73" height="11.73" fill="#F14040"/>
<circle cx="625.45" cy="1883.12" r="6.91" fill="#1A6FDF"/>
<circle cx="785.95" cy="1900.91" r="6.91" fill="#1A6FDF"/>
<circle cx="946.45" cy="1932.25" r="6.91" fill="#1A6FDF"/>
<circle cx="1106.95" cy="1963.59" r="6.91" fill="#1A6FDF"/>
<polygon points="625.45,1934.98 619.01,1938.7 619.01,1946.13 625.45,1949.85 631.89,1946.13 631.89,1938.7" fill="#37AD6B"/>
<polygon points="785.95,1923.12 779.51,1926.84 779.51,1934.27 785.95,1937.99 792.39,1934.27 792.39,1926.84" fill="#37AD6B"/>
<polygon points="946.45,1930.74 940.01,1934.46 940.01,1941.89 946.45,1945.61 952.89,1941.89 952.89,1934.46" fill="#37AD6B"/>
<polygon points="1106.95,1957.85 1100.51,1961.56 1100.51,1969 1106.95,1972.71 1113.39,1969 1113.39,1961.56" fill="#37AD6B"/>
<polygon points="625.45,1847.64 633.83,1856.02 625.45,1864.39 617.07,1856.02" fill="#B177DE"/>
<polygon points="785.95,1871.36 794.33,1879.73 785.95,1888.11 777.57,1879.73" fill="#B177DE"/>
<polygon points="946.45,1880.68 954.83,1889.05 946.45,1897.43 938.07,1889.05" fill="#B177DE"/>
<polygon points="1106.95,1902.7 1115.33,1911.07 1106.95,1919.45 1098.57,1911.07" fill="#B177DE"/>
<polygon points="625.45,1741.71 623.22,1746.23 618.23,1746.95 621.84,1750.47 620.99,1755.44 625.45,1753.09 629.91,1755.44 629.06,1750.47 632.67,1746.95 627.68,1746.23" fill="#CC9900" stroke="#CC9900" stroke-width="1.15" stroke-linejoin="round"/>
<polygon points="785.95,1817.94 783.72,1822.46 778.73,1823.18 782.34,1826.7 781.49,1831.67 785.95,1829.32 790.41,1831.67 789.56,1826.7 793.17,1823.18 788.18,1822.46" fill="#CC9900" stroke="#CC9900" stroke-width="1.15" stroke-linejoin="round"/>
<polygon points="946.45,1853.51 944.22,1858.03 939.23,1858.75 942.84,1862.27 941.99,1867.24 946.45,1864.9 950.91,1867.24 950.06,1862.27 953.67,1858.75 948.68,1858.03" fill="#CC9900" stroke="#CC9900" stroke-width="1.15" stroke-linejoin="round"/>
<polygon points="1106.95,1862.83 1104.72,1867.35 1099.73,1868.07 1103.34,1871.59 1102.49,1876.56 1106.95,1874.21 1111.41,1876.56 1110.56,1871.59 1114.17,1868.07 1109.18,1867.35" fill="#CC9900" stroke="#CC9900" stroke-width="1.15" stroke-linejoin="round"/>
<path d="M963 1607.6H1011.5" stroke="#515151" stroke-width="3.6" fill="none"/>
<polygon points="987.25,1598.82 979.08,1612.54 995.42,1612.54" fill="#515151"/>
<text y="1614.51" font-size="21.7"><tspan x="1017">β=0.40,</tspan><tspan x="1098.2">2<tspan font-style="italic">γ</tspan><tspan dx="1.04">=12.5</tspan></tspan></text>
<path d="M963 1636.4H1011.5" stroke="#F14040" stroke-width="3.6" fill="none"/>
<rect x="981.39" y="1630.54" width="11.73" height="11.73" fill="#F14040"/>
<text y="1643.31" font-size="21.7"><tspan x="1017">β=0.40,</tspan><tspan x="1098.2">2<tspan font-style="italic">γ</tspan><tspan dx="1.04">=16.0</tspan></tspan></text>
<path d="M963 1665.2H1011.5" stroke="#1A6FDF" stroke-width="3.6" fill="none"/>
<circle cx="987.25" cy="1665.2" r="6.91" fill="#1A6FDF"/>
<text y="1672.11" font-size="21.7"><tspan x="1017">β=0.40,</tspan><tspan x="1098.2">2<tspan font-style="italic">γ</tspan><tspan dx="1.04">=20.0</tspan></tspan></text>
<path d="M963 1694H1011.5" stroke="#37AD6B" stroke-width="3.6" fill="none" stroke-dasharray="18.24,11.81,2.65,11.91"/>
<polygon points="987.25,1686.57 980.81,1690.28 980.81,1697.72 987.25,1701.43 993.69,1697.72 993.69,1690.28" fill="#37AD6B"/>
<text y="1700.91" font-size="21.7"><tspan x="1017">β=0.55,</tspan><tspan x="1098.2">2<tspan font-style="italic">γ</tspan><tspan dx="1.04">=12.5</tspan></tspan></text>
<path d="M963 1722.8H1011.5" stroke="#B177DE" stroke-width="3.6" fill="none" stroke-dasharray="13.42,11.62,2.55,11.62,2.55,11.62"/>
<polygon points="987.25,1714.42 995.63,1722.8 987.25,1731.18 978.87,1722.8" fill="#B177DE"/>
<text y="1729.71" font-size="21.7"><tspan x="1017">β=0.55,</tspan><tspan x="1098.2">2<tspan font-style="italic">γ</tspan><tspan dx="1.04">=16.0</tspan></tspan></text>
<path d="M963 1751.6H1011.5" stroke="#CC9900" stroke-width="3.6" fill="none" stroke-dasharray="6.33,9.54"/>
<polygon points="987.25,1744.01 985.02,1748.53 980.03,1749.25 983.64,1752.77 982.79,1757.74 987.25,1755.4 991.71,1757.74 990.86,1752.77 994.47,1749.25 989.48,1748.53" fill="#CC9900" stroke="#CC9900" stroke-width="1.15" stroke-linejoin="round"/>
<text y="1758.51" font-size="21.7"><tspan x="1017">β=0.55,</tspan><tspan x="1098.2">2<tspan font-style="italic">γ</tspan><tspan dx="1.04">=20.0</tspan></tspan></text>
<text class="cap" x="873" y="2289.8" font-size="44.5" text-anchor="middle">(e)Line E</text>
</g>
</svg></body></html>
